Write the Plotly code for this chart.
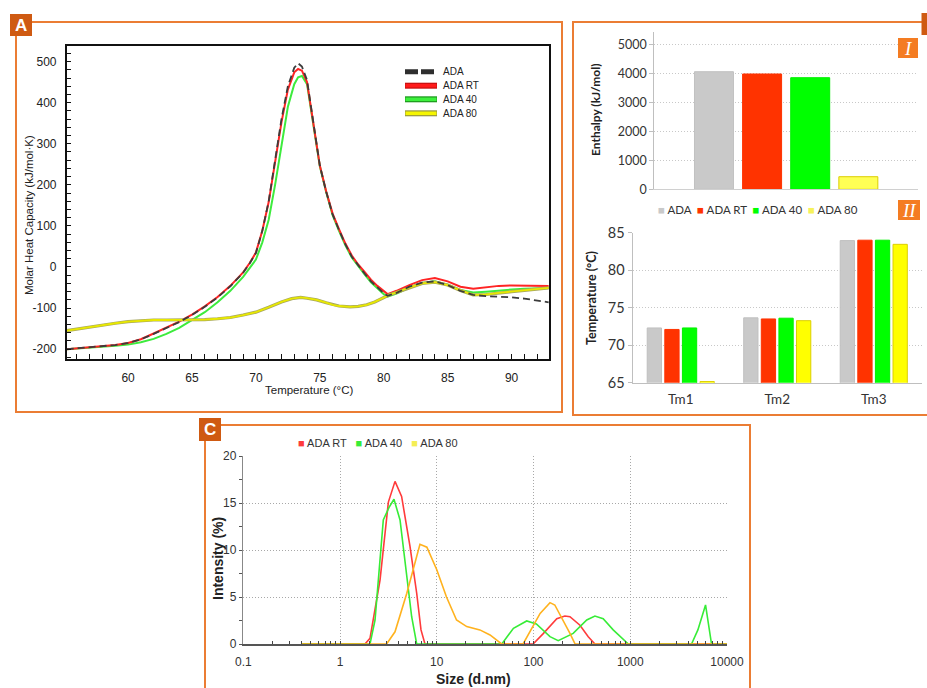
import plotly.graph_objects as go

W, H = 927, 688
def px(x): return x / W
def py(y): return 1 - y / H

# ---------------- Panel A : DSC thermograms ----------------
t_ada = [55.2, 57, 59, 60, 61, 62, 63, 64, 65, 66, 67, 68, 69, 69.5, 70, 70.5, 71, 71.5, 72, 72.5,
         73, 73.3, 73.6, 74, 74.5, 75, 75.5, 76, 76.5, 77, 77.5, 78, 78.5, 79, 79.5, 80, 80.3,
         81, 82, 83, 84, 85, 86, 87, 88, 89, 90, 91, 92, 92.9]
cp_ada = [-200, -196, -190, -185, -176, -163, -149, -134, -117, -97, -74, -47, -14, 8, 34, 88, 160, 260, 360, 440,
          485, 496, 488, 455, 350, 247, 183, 128, 90, 55, 25, 3, -16, -35, -50, -64, -70,
          -63, -48, -38, -35, -44, -58, -68, -71, -72, -74, -77, -81, -86]

t_rt = t_ada
cp_rt = [-200, -196, -190, -185, -176, -162, -148, -133, -116, -96, -73, -46, -13, 9, 35, 88, 158, 256, 352, 432,
         474, 482, 478, 450, 348, 247, 184, 130, 92, 57, 28, 6, -12, -31, -46, -60, -66,
         -58, -44, -32, -27, -35, -48, -53, -50, -46, -45, -45, -45, -46]

t_40 = t_ada
cp_40 = [-200, -197, -192, -189, -183, -175, -163, -148, -130, -110, -86, -58, -24, -4, 18, 60, 115, 200, 300, 390,
         445, 462, 465, 445, 345, 245, 182, 126, 88, 53, 23, 1, -18, -37, -52, -66, -72,
         -65, -50, -39, -35, -43, -56, -62, -60, -57, -55, -53, -52, -51]

t_80 = [55.2, 57, 59, 60, 61, 62, 63, 64, 65, 66, 67, 68, 69, 70, 71, 72, 72.8, 73.5, 74, 74.75,
        75.5, 76, 76.5, 77.36, 78, 78.67, 79.3, 79.97, 80.5, 81, 82, 83, 84, 85, 86, 87, 88, 89,
        90, 91, 92, 92.9]
cp_80 = [-155, -146, -137, -133, -131, -129, -129, -129, -129, -128, -126, -123, -117, -110, -98, -85, -77, -74, -76, -80,
         -87, -92, -95, -97, -96, -92, -85, -75, -67, -62, -50, -40, -37, -44, -57, -68, -67, -63,
         -60, -57, -54, -51]

temp_ticks = list(range(56, 93))
temp_tick_text = [str(v) if v % 5 == 0 else "" for v in temp_ticks]
cp_ticks = list(range(-220, 521, 20))
cp_tick_text = [str(v) if v % 100 == 0 else "" for v in cp_ticks]

# ---------------- Panel B : enthalpy and Tm ----------------
samples = ["ADA", "ADA RT", "ADA 40", "ADA 80"]
enthalpy = [4055, 3976, 3848, 434]
tm_labels = ["Tm1", "Tm2", "Tm3"]
tm_values = {
    "ADA":    [72.3, 73.65, 83.95],
    "ADA RT": [72.1, 73.5, 84.0],
    "ADA 40": [72.3, 73.6, 84.0],
    "ADA 80": [65.15, 73.27, 83.45],
}

# ---------------- Panel C : DLS size distribution ----------------
size_rt = [0.4, 1.81, 2.04, 2.59, 3.16, 3.7, 4.33, 5.28, 6.2, 6.87, 7.55, 99, 126, 174, 211, 238, 302, 368, 431, 10000]
int_rt = [0, 0, 0.6, 6.8, 15.1, 17.3, 15.7, 10.4, 5.4, 1.5, 0, 0, 1.1, 2.7, 2.98, 2.9, 2.0, 0.78, 0, 0]

size_40 = [0.4, 2.04, 2.3, 2.8, 3.2, 3.61, 4.17, 4.89, 5.5, 6.2, 47, 62, 85, 107, 148, 180, 257, 355, 431, 525,
           666, 955, 4300, 5000, 6000, 6920, 10000]
int_40 = [0, 0, 2.55, 13.2, 14.5, 15.4, 13.2, 7.5, 2.9, 0, 0, 1.67, 2.45, 2.13, 0.78, 0.36, 1.13, 2.55, 2.98, 2.7,
          1.5, 0, 0, 1.5, 4.15, 0, 0]

size_80 = [0.4, 3.03, 3.7, 4.9, 6.7, 7.9, 10, 12.6, 16, 20.4, 27.9, 35.5, 46.8, 78, 117, 148, 166, 203, 238, 269, 10000]
int_80 = [0, 0, 1.3, 5.4, 10.6, 10.3, 7.9, 5.0, 2.55, 1.85, 1.5, 0.96, 0, 0, 3.26, 4.4, 4.15, 2.55, 1.13, 0, 0]

size_major = [0.1, 1, 10, 100, 1000, 10000]
size_ticks = [k * 10.0 ** e for e in range(-1, 4) for k in range(1, 10)] + [10000]
size_tick_text = [("%g" % v if v in size_major else "") for v in size_ticks]
int_ticks = [0, 2.5, 5, 7.5, 10, 12.5, 15, 17.5, 20]
int_tick_text = [("%g" % v if v % 5 == 0 else "") for v in int_ticks]

# ---------------- styles ----------------
ARIAL = "Liberation Sans, Arial, sans-serif"
CAL = "Lato, Open Sans, sans-serif"
SERIF = "Liberation Serif, DejaVu Serif, serif"
ORANGE = "#EB7D34"
DARK_OR = "#CF5A12"
LIGHT_OR = "#F47C22"

dsc_col = {"ADA": "#3C3C3C", "ADA RT": "#FF2424", "ADA 40": "#3DEB3D", "ADA 80": "#E8E800"}
bar_col = {"ADA": "#C9C9C9", "ADA RT": "#FF3300", "ADA 40": "#00FF00", "ADA 80": "#FFFF55"}
bar_line = {"ADA": "#C0C0C0", "ADA RT": "#FF3300", "ADA 40": "#00F000", "ADA 80": "#DCCF00"}
dls_col = {"ADA RT": "#FF3B3B", "ADA 40": "#37EC37", "ADA 80": "#FFB21E"}

fig = go.Figure()

# Panel A traces
fig.add_trace(go.Scatter(x=t_40, y=cp_40, mode="lines", line=dict(color=dsc_col["ADA 40"], width=2),
                         xaxis="x", yaxis="y", showlegend=False))
fig.add_trace(go.Scatter(x=t_rt, y=cp_rt, mode="lines", line=dict(color=dsc_col["ADA RT"], width=2),
                         xaxis="x", yaxis="y", showlegend=False))
fig.add_trace(go.Scatter(x=t_80, y=cp_80, mode="lines", line=dict(color="#A8A860", width=3.2),
                         xaxis="x", yaxis="y", showlegend=False))
fig.add_trace(go.Scatter(x=t_80, y=cp_80, mode="lines", line=dict(color=dsc_col["ADA 80"], width=1.8),
                         xaxis="x", yaxis="y", showlegend=False))
fig.add_trace(go.Scatter(x=t_ada, y=cp_ada, mode="lines",
                         line=dict(color=dsc_col["ADA"], width=1.8, dash="7px,4px"),
                         xaxis="x", yaxis="y", showlegend=False))

# Panel B-I traces
for s, v in zip(samples, enthalpy):
    fig.add_trace(go.Bar(x=["Enthalpy"], y=[v], marker=dict(color=bar_col[s], line=dict(color=bar_line[s], width=1)),
                         xaxis="x2", yaxis="y2", showlegend=False))
# Panel B-II traces
for s in samples:
    fig.add_trace(go.Bar(x=tm_labels, y=tm_values[s],
                         marker=dict(color=bar_col[s] if s != "ADA 80" else "#FFFF00",
                                     line=dict(color=bar_line[s], width=1)),
                         xaxis="x3", yaxis="y3", showlegend=False))

# Panel C traces
fig.add_trace(go.Scatter(x=size_rt, y=int_rt, mode="lines", line=dict(color=dls_col["ADA RT"], width=1.6),
                         xaxis="x4", yaxis="y4", showlegend=False))
fig.add_trace(go.Scatter(x=size_40, y=int_40, mode="lines", line=dict(color=dls_col["ADA 40"], width=1.6),
                         xaxis="x4", yaxis="y4", showlegend=False))
fig.add_trace(go.Scatter(x=size_80, y=int_80, mode="lines", line=dict(color=dls_col["ADA 80"], width=1.6),
                         xaxis="x4", yaxis="y4", showlegend=False))

# ---------------- axes ----------------
axA_font = dict(family=ARIAL, size=12, color="#222")
GRID_DOT = "1px,2px"

fig.update_layout(
    xaxis=dict(domain=[px(66.7), px(549.3)], anchor="y", range=[55.2, 92.95],
               tickmode="array", tickvals=temp_ticks, ticktext=temp_tick_text,
               ticks="inside", ticklen=5, tickwidth=1.3, tickcolor="#111", ticklabelstandoff=7,
               showline=True, mirror=True, linecolor="#111", linewidth=1.5, showgrid=False, zeroline=False,
               tickfont=axA_font),
    yaxis=dict(domain=[py(359), py(46)], anchor="x", range=[-224, 538],
               tickmode="array", tickvals=cp_ticks, ticktext=cp_tick_text,
               ticks="inside", ticklen=5, tickwidth=1.3, tickcolor="#111", ticklabelstandoff=6,
               showline=True, mirror=True, linecolor="#111", linewidth=1.5, showgrid=False, zeroline=False,
               tickfont=axA_font),
    xaxis2=dict(domain=[px(654.3), px(918)], anchor="y2", type="category", showticklabels=False, ticks="",
                showline=True, linecolor="#D0D0D0", linewidth=1, showgrid=False, zeroline=False),
    yaxis2=dict(domain=[py(189.3), py(31.7)], anchor="x2", range=[0, 5434], dtick=1000,
                ticks="outside", ticklen=4, tickcolor="#BFBFBF", showline=True, linecolor="#BFBFBF", linewidth=1,
                showgrid=True, gridcolor="#C8C8C8", griddash=GRID_DOT, gridwidth=1, zeroline=False,
                tickfont=dict(family=CAL, size=12.5, color="#333")),
    xaxis3=dict(domain=[px(632.5), px(922)], anchor="y3", type="category", ticks="", ticklabelstandoff=4,
                showline=True, linecolor="#BFBFBF", linewidth=1.2, showgrid=False, zeroline=False,
                tickfont=dict(family=CAL, size=13.5, color="#333")),
    yaxis3=dict(domain=[py(382.7), py(232.7)], anchor="x3", range=[65, 85], dtick=5,
                ticks="outside", ticklen=4, tickcolor="#BFBFBF", showline=True, linecolor="#BFBFBF", linewidth=1,
                showgrid=True, gridcolor="#C8C8C8", griddash=GRID_DOT, gridwidth=1, zeroline=False,
                tickfont=dict(family=CAL, size=14.5, color="#333")),
    xaxis4=dict(domain=[px(243.3), px(727)], anchor="y4", type="log", range=[-1, 4],
                tickmode="array", tickvals=size_ticks, ticktext=size_tick_text,
                ticks="inside", ticklen=3, tickwidth=1.3, tickcolor="#444", ticklabelstandoff=6,
                showline=True, linecolor="#555", linewidth=2, showgrid=False, zeroline=False,
                tickfont=dict(family=ARIAL, size=12, color="#333")),
    yaxis4=dict(domain=[py(644), py(456)], anchor="x4", range=[0, 20],
                tickmode="array", tickvals=int_ticks, ticktext=int_tick_text,
                ticks="outside", ticklen=3.5, tickcolor="#555",
                showline=True, linecolor="#888", linewidth=1, showgrid=False, zeroline=False,
                tickfont=dict(family=ARIAL, size=12, color="#333")),
    # grid-only axes for panel C (gridlines only at the labelled values)
    xaxis5=dict(domain=[px(243.3), px(727)], anchor="y5", overlaying="x4", type="log", range=[-1, 4],
                tickmode="array", tickvals=size_major, showticklabels=False, ticks="",
                showline=False, showgrid=True, gridcolor="#A8A8A8", griddash=GRID_DOT, gridwidth=1, zeroline=False),
    yaxis5=dict(domain=[py(644), py(456)], anchor="x5", overlaying="y4", range=[0, 20], dtick=5,
                showticklabels=False, ticks="",
                showline=False, showgrid=True, gridcolor="#A8A8A8", griddash=GRID_DOT, gridwidth=1, zeroline=False),
    barmode="group", bargap=0.27, bargroupgap=0.19,
)
fig.add_trace(go.Scatter(x=[None], y=[None], xaxis="x5", yaxis="y5", showlegend=False, hoverinfo="skip"))

# ---------------- frames, labels, legends ----------------
shapes = []
annotations = []

def rect(x0, y0, x1, y1, line=None, fill=None, lw=2):
    shapes.append(dict(type="rect", xref="paper", yref="paper", x0=px(x0), x1=px(x1), y0=py(y1), y1=py(y0),
                       line=dict(color=line if line else "rgba(0,0,0,0)", width=lw if line else 0),
                       fillcolor=fill if fill else "rgba(0,0,0,0)", layer="above"))

def text(x, y, s, size, family=ARIAL, color="#222", angle=0, xanchor="center", bold=False):
    annotations.append(dict(xref="paper", yref="paper", x=px(x), y=py(y), text=("<b>%s</b>" % s) if bold else s,
                            showarrow=False, textangle=angle, xanchor=xanchor, yanchor="middle",
                            font=dict(family=family, size=size, color=color)))

# panel frames
rect(16, 22, 562, 412, line=ORANGE)
rect(573, 22, 940, 415, line=ORANGE)
rect(205, 425, 750, 700, line=ORANGE)
# panel letters
rect(10, 14, 32, 36, fill=DARK_OR)
text(21, 25.5, "A", 17, bold=True, color="white")
rect(921.5, 13, 940, 35, fill=DARK_OR)
rect(199, 418, 221, 441, fill=DARK_OR)
text(210, 429.5, "C", 17, bold=True, color="white")
# I / II tags
rect(898, 38, 918, 58, fill=LIGHT_OR)
text(908, 48, "<i>I</i>", 19, family=SERIF, color="white")
rect(898, 200, 920, 220, fill=LIGHT_OR)
text(909, 210, "<i>II</i>", 19, family=SERIF, color="white")

# axis titles
text(29, 215, "Molar Heat Capacity (kJ/mol·K)", 11.5, angle=-90)
text(309, 390, "Temperature (°C)", 11.5)
text(595, 110, "Enthalpy (kJ/mol)", 12, family=CAL, color="#222", angle=-90, bold=True)
text(591, 298, "Temperature (°C)", 12.5, family=CAL, color="#222", angle=-90, bold=True)
text(218, 559, "Intensity (%)", 14, angle=-90, bold=True)
text(473, 679, "Size (d.nm)", 14, bold=True)

# legend A (line samples)
legA = [("ADA", "#555", "#2E2E2E", "13px,3px", 71.7), ("ADA RT", "#C81010", "#FF1A1A", "solid", 85.7),
        ("ADA 40", "#1E9A1E", "#3DF03D", "solid", 99.3), ("ADA 80", "#9A9A40", "#F5F500", "solid", 113.3)]
for name, outline, fillc, dash, yy in legA:
    if dash == "solid":
        shapes.append(dict(type="line", xref="paper", yref="paper", x0=px(405), x1=px(437), y0=py(yy), y1=py(yy),
                           line=dict(color=outline, width=6), layer="above"))
        shapes.append(dict(type="line", xref="paper", yref="paper", x0=px(405.5), x1=px(436.5), y0=py(yy), y1=py(yy),
                           line=dict(color=fillc, width=3.5), layer="above"))
    else:
        shapes.append(dict(type="line", xref="paper", yref="paper", x0=px(405), x1=px(437), y0=py(yy), y1=py(yy),
                           line=dict(color=fillc, width=5, dash=dash), layer="above"))
    text(441, yy, name, 10, xanchor="left", color="#222")

# legend B
legB = "  ".join('<span style="color:%s">■</span> %s' % (bar_col[s] if s != "ADA 80" else "#F6F25A", s)
                 for s in samples)
annotations.append(dict(xref="paper", yref="paper", x=px(656), y=py(209.5), xanchor="left", yanchor="middle",
                        text=legB, showarrow=False, font=dict(family=CAL, size=11.5, color="#333")))

# legend C
legC = "   ".join('<span style="color:%s">■</span> %s' % (c, s) for s, c in
                  [("ADA RT", "#FF3B3B"), ("ADA 40", "#37EC37"), ("ADA 80", "#F4EE55")])
annotations.append(dict(xref="paper", yref="paper", x=px(296), y=py(442.5), xanchor="left", yanchor="middle",
                        text=legC, showarrow=False, font=dict(family=ARIAL, size=11, color="#333")))

fig.update_layout(
    template="none", width=W, height=H, margin=dict(l=0, r=0, t=0, b=0),
    paper_bgcolor="white", plot_bgcolor="rgba(0,0,0,0)", showlegend=False,
    shapes=shapes, annotations=annotations,
)

fig.write_html("out.html")
